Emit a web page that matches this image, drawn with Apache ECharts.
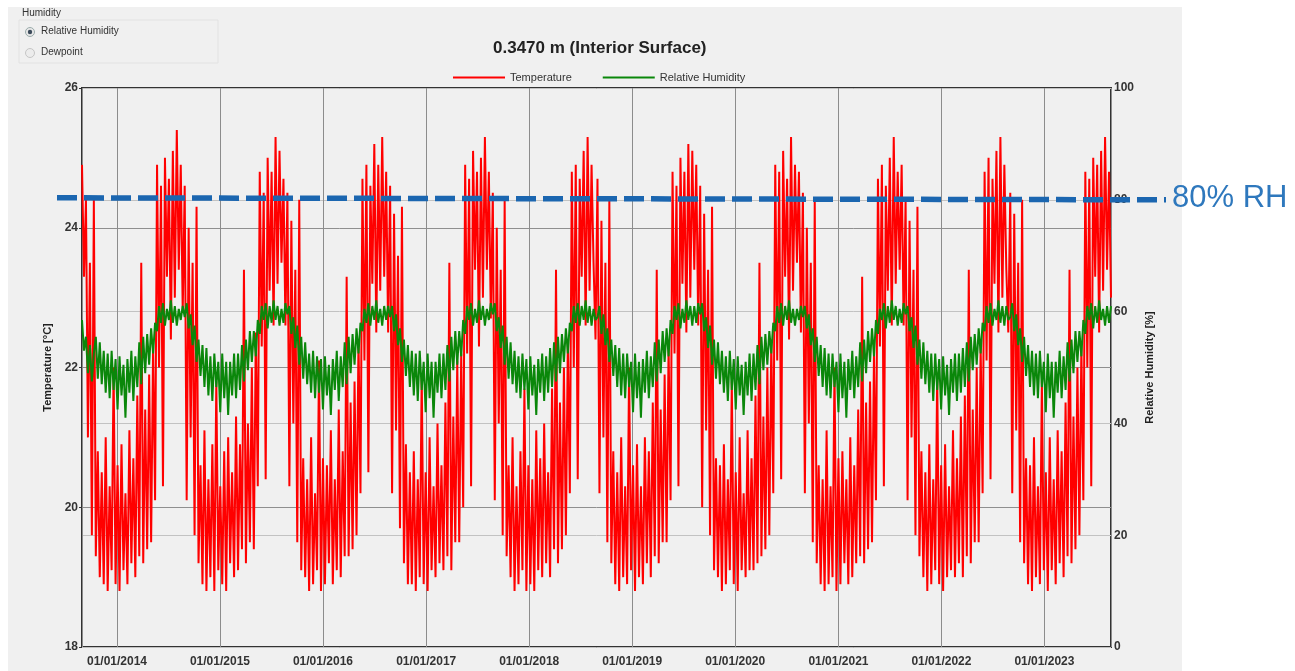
<!DOCTYPE html>
<html>
<head>
<meta charset="utf-8">
<title>0.3470 m (Interior Surface)</title>
<script src="https://cdn.jsdelivr.net/npm/echarts@6/dist/echarts.min.js"></script>
<style>
  html, body { margin: 0; padding: 0; background: #fff; }
  #wrap { position: relative; width: 1295px; height: 671px; }
  #panel { position: absolute; left: 8px; top: 7px; width: 1174px; height: 664px; background: #f0f0f0; }
  #chart { position: absolute; left: 0; top: 0; width: 1295px; height: 671px; }
</style>
</head>
<body>
<div id="wrap">
  <div id="panel"></div>
  <div id="chart"></div>
</div>
<script>
const chartTitle = '0.3470 m (Interior Surface)';
const seriesNames = ['Temperature', 'Relative Humidity'];
const firstSample = '2013-08-30';
const lastSample = '2023-08-25';
const tempAxis = { min: 18, max: 26, interval: 2 };
const rhAxis = { min: 0, max: 100, interval: 20 };
const rhThreshold = 80;

// weekly samples, one line per year (end of August -> end of August)
const temperature = [
  24.9,23.3,24.4,21.0,23.5,19.6,24.4,19.3,20.8,19.0,20.5,18.9,21.0,18.8,20.3,19.1,22.0,18.9,20.6,18.8,20.9,19.1,20.2,18.9,21.1,19.2,20.7,19.0,21.6,19.3,23.5,19.2,21.4,19.4,21.9,19.5,22.3,20.1,24.9,22.0,24.6,20.3,25.0,23.3,24.7,22.4,25.1,23.0,25.4,23.4,24.9,22.8,
  24.6,20.1,24.0,21.0,23.5,19.6,24.3,19.2,20.6,18.9,21.1,18.8,20.4,19.0,20.9,18.8,21.8,19.1,20.3,18.9,20.8,18.8,21.0,19.2,20.5,19.0,21.3,19.1,20.9,19.4,23.4,19.2,21.2,19.5,22.0,19.4,22.5,20.3,24.8,22.3,24.5,20.4,25.0,23.1,24.8,22.6,25.3,23.2,25.1,23.5,24.7,22.6,
  24.5,20.3,24.1,21.2,23.4,19.5,24.4,19.1,20.7,19.0,20.4,18.8,21.0,18.9,20.2,19.1,22.1,18.8,20.7,18.9,20.6,19.2,21.1,18.9,20.4,19.1,21.4,19.0,20.8,19.3,23.3,19.3,21.5,19.4,21.8,19.6,22.4,20.2,24.7,22.1,24.9,20.5,24.6,23.2,25.2,22.5,24.9,23.1,25.3,23.3,24.8,22.5,
  24.6,20.2,24.2,21.1,23.6,19.7,24.3,19.2,20.9,18.9,20.5,18.9,20.8,18.8,20.4,19.0,21.9,18.9,20.5,18.8,21.0,19.1,20.3,19.0,21.2,19.2,20.6,19.1,21.5,19.3,23.5,19.1,21.3,19.5,22.1,19.5,22.2,20.0,24.9,22.2,24.7,20.3,25.1,23.4,24.8,22.3,25.0,23.0,25.3,23.4,24.8,22.7,
  24.5,20.1,24.0,21.2,23.4,19.6,24.4,19.3,20.6,19.0,21.0,18.8,20.3,18.9,20.8,19.1,21.7,18.8,20.6,18.9,20.4,18.8,21.1,19.1,20.7,19.0,21.2,19.2,20.5,19.0,21.7,19.4,23.4,19.2,21.5,19.4,22.0,19.6,22.4,20.2,24.8,22.0,24.9,20.4,24.7,23.3,25.1,22.6,25.3,23.1,24.9,23.5,22.4,
  24.7,20.2,24.1,21.0,23.5,19.5,24.4,19.2,20.8,18.9,20.5,18.8,21.0,19.0,20.3,18.9,22.0,19.1,20.6,18.8,20.9,19.0,20.3,18.9,21.0,19.2,20.8,19.0,21.5,19.3,23.4,19.2,21.4,19.5,21.9,19.5,22.3,20.1,24.8,22.2,24.6,20.3,25.0,23.2,24.8,22.5,25.2,23.0,25.1,23.4,24.9,22.6,
  24.6,20.0,24.2,21.1,23.4,19.6,24.3,19.1,20.7,19.0,20.6,18.8,20.9,18.9,20.4,19.1,21.8,18.9,20.5,18.8,21.0,19.1,20.2,19.0,21.1,19.1,20.7,19.1,21.6,19.2,23.5,19.3,21.3,19.4,22.0,19.6,22.4,20.2,24.9,22.1,24.8,20.4,25.1,23.3,24.7,22.4,25.3,23.1,24.9,23.5,24.8,22.5,
  24.5,20.2,24.0,21.2,23.5,19.5,24.4,19.2,20.6,18.9,20.4,18.8,21.1,18.9,20.3,19.0,22.0,18.8,20.7,18.9,20.8,19.2,20.4,18.9,21.0,19.0,20.6,19.2,21.4,19.3,23.3,19.2,21.5,19.4,21.8,19.5,22.2,20.1,24.7,22.3,24.9,20.3,24.6,23.1,25.0,22.6,25.3,23.2,24.8,23.4,24.9,22.6,
  24.4,20.1,24.1,21.0,23.4,19.6,24.3,19.3,20.8,19.0,20.5,18.8,20.9,18.9,20.4,19.1,21.9,18.9,20.6,18.8,20.9,19.0,20.3,19.1,21.1,19.0,20.7,19.2,21.3,19.0,21.6,19.3,23.4,19.2,21.4,19.5,22.0,19.5,22.3,20.2,24.8,22.1,25.0,20.4,24.7,23.2,25.1,22.5,25.3,23.0,24.9,23.4,22.5,
  24.5,20.2,24.2,21.1,23.5,19.5,24.4,19.2,20.7,18.9,20.6,18.8,21.0,19.0,20.3,18.9,21.8,19.1,20.5,18.8,21.0,19.1,20.4,18.9,21.1,19.2,20.8,19.0,21.5,19.3,23.4,19.2,21.3,19.4,22.0,19.6,22.3,20.1,24.8,22.0,24.7,20.3,25.0,23.3,24.9,22.5,25.1,23.1,25.3,23.4,24.8,23.0
];

const humidity = [
  58.5,53.0,55.5,49.0,54.0,47.5,52.5,55.5,48.0,54.5,47.0,53.0,45.5,52.5,44.5,53.0,46.0,51.5,42.5,52.0,45.0,50.5,41.0,51.5,45.5,53.0,44.0,52.0,46.5,54.5,47.0,55.5,49.0,56.0,50.5,57.0,52.5,58.0,56.5,61.0,58.0,61.5,57.5,60.5,58.5,62.0,58.0,61.0,57.5,60.5,58.5,61.0,
  59.0,61.5,57.0,59.5,54.0,57.5,51.0,55.0,48.5,54.0,46.5,53.5,45.0,52.0,44.0,52.5,46.5,51.0,42.0,52.5,44.5,51.0,41.5,51.0,45.0,52.5,44.5,52.5,46.0,54.0,47.5,55.0,49.5,56.5,51.0,56.5,52.0,58.5,56.0,61.0,58.5,61.5,57.0,61.0,58.0,62.0,58.5,61.0,57.5,60.5,58.0,61.5,
  59.5,61.0,56.0,59.0,53.5,57.5,50.5,55.5,48.0,54.5,47.0,52.5,45.5,53.0,44.5,52.0,45.5,51.5,42.5,52.0,45.0,50.5,41.5,51.5,46.0,53.0,44.0,52.0,46.5,54.5,47.0,55.5,49.0,56.0,50.5,57.0,52.5,58.0,56.5,60.5,58.0,61.5,57.5,61.0,58.5,62.0,58.0,60.5,57.5,61.0,58.5,61.0,
  59.0,61.0,56.5,59.5,54.0,57.0,51.0,55.0,48.5,54.0,46.5,53.0,45.0,52.5,44.0,53.0,46.0,51.0,42.0,52.5,44.5,51.0,41.0,51.0,45.5,52.5,44.5,52.5,46.0,54.0,47.5,55.5,49.5,56.5,50.5,56.5,52.0,58.5,56.0,61.0,58.5,61.5,57.5,60.5,58.0,62.0,58.5,61.0,57.5,60.5,58.5,61.5,
  59.5,61.5,56.5,59.0,53.5,57.5,50.5,55.5,48.0,54.5,47.0,53.0,45.5,52.0,44.5,52.5,46.0,51.5,42.5,52.0,45.0,50.5,41.5,51.5,45.5,52.5,44.0,52.0,45.5,53.5,46.5,54.5,47.5,55.5,49.0,56.0,51.0,57.0,52.5,58.0,56.5,61.0,58.0,61.5,57.5,61.0,58.5,62.0,58.0,61.0,57.5,60.5,58.5,
  59.0,61.0,56.0,59.5,54.0,57.0,51.0,55.0,48.5,54.0,46.5,53.5,45.0,52.5,44.5,52.5,46.5,51.0,42.0,52.5,44.5,51.0,41.0,51.5,45.5,53.0,44.5,52.0,46.5,54.5,47.5,55.0,49.0,56.5,51.0,57.0,52.0,58.5,56.0,61.0,58.5,61.5,57.0,60.5,58.0,62.0,58.5,61.0,57.5,61.0,58.0,61.5,
  59.5,61.5,56.5,59.0,53.5,57.5,50.5,55.0,48.0,54.5,47.0,53.0,45.5,52.0,44.0,53.0,46.0,51.5,42.5,52.0,45.0,50.5,41.5,51.0,45.0,52.5,44.0,52.5,46.0,54.0,47.0,55.5,49.5,56.0,50.5,56.5,52.5,58.0,56.5,61.0,58.0,61.5,57.5,61.0,58.5,62.0,58.0,60.5,57.5,60.5,58.5,61.0,
  59.0,61.0,57.0,59.5,54.0,57.0,51.0,55.5,48.5,54.0,46.5,53.5,45.0,52.5,44.5,52.5,46.5,51.0,42.0,52.5,44.5,51.0,41.0,51.5,46.0,53.0,44.5,52.0,46.5,54.5,47.5,55.0,49.0,56.5,51.0,57.0,52.0,58.5,56.0,60.5,58.5,61.5,57.0,61.0,58.0,62.0,58.5,61.0,57.5,60.5,58.0,61.5,
  59.5,61.0,56.5,59.0,53.5,57.5,50.5,55.0,48.0,54.5,47.0,53.0,45.5,52.5,44.0,52.5,46.0,51.5,42.5,52.0,45.0,50.5,41.5,51.5,45.5,52.5,44.0,52.5,45.5,53.5,46.5,54.5,47.5,55.5,49.5,56.0,50.5,57.0,52.5,58.0,56.5,61.0,58.0,61.5,57.5,60.5,58.5,62.0,58.0,61.0,57.5,61.0,58.5,
  59.0,61.5,56.5,59.5,54.0,57.0,51.0,55.5,48.5,54.0,46.5,53.0,45.0,52.5,44.5,53.0,46.5,51.0,42.0,52.5,44.5,51.0,41.0,51.0,45.5,53.0,44.5,52.0,46.0,54.5,47.5,55.0,49.0,56.5,51.0,56.5,52.0,58.5,56.0,61.0,58.5,61.5,57.0,61.0,58.0,62.0,58.5,60.5,57.5,61.0,58.0,61.0
];

const DAY = 24 * 3600 * 1000;
const t0 = +new Date(firstSample);
const t1 = +new Date(lastSample);

// samples are evenly spaced between the first and last date
const toSeries = (values) => {
  const step = (t1 - t0) / (values.length - 1);
  return values.map((v, i) => [t0 + i * step, v]);
};

const font = '"Liberation Sans", Arial, sans-serif';
const myChart = echarts.init(document.getElementById('chart'));

const option = {
  animation: false,
  textStyle: { fontFamily: font },
  title: {
    text: chartTitle,
    left: 488,
    top: 35,
    textStyle: { fontSize: 17, fontWeight: 'bold', color: '#222', fontFamily: font }
  },
  legend: {
    left: 448,
    top: 67,
    icon: 'rect',
    itemWidth: 52,
    itemHeight: 2,
    itemGap: 31,
    textStyle: { fontSize: 11, color: '#333', fontFamily: font },
    data: seriesNames
  },
  grid: {
    left: 82,
    right: 184,
    top: 88,
    bottom: 24,
    show: true,
    borderColor: '#333',
    borderWidth: 2
  },
  xAxis: {
    type: 'time',
    min: t0,
    max: t1,
    minInterval: 365 * DAY,
    maxInterval: 366 * DAY,
    axisLine: { show: false },
    axisTick: { show: false },
    axisLabel: {
      formatter: '{dd}/{MM}/{yyyy}',
      showMinLabel: false,
      showMaxLabel: false,
      fontSize: 12,
      fontWeight: 'bold',
      color: '#333',
      margin: 9
    },
    splitLine: { show: true, lineStyle: { color: '#8c8c8c', width: 1 } }
  },
  yAxis: [
    {
      type: 'value',
      position: 'left',
      min: tempAxis.min,
      max: tempAxis.max,
      interval: tempAxis.interval,
      name: 'Temperature [°C]',
      nameLocation: 'middle',
      nameRotate: 90,
      nameGap: 23,
      nameTextStyle: { fontSize: 11, fontWeight: 'bold', color: '#222' },
      axisLine: { show: false },
      axisTick: { show: true, length: 3, lineStyle: { color: '#333' } },
      axisLabel: { fontSize: 12, fontWeight: 'bold', color: '#333', margin: 4 },
      splitLine: { lineStyle: { color: '#8f8f8f' } }
    },
    {
      type: 'value',
      position: 'right',
      min: rhAxis.min,
      max: rhAxis.max,
      interval: rhAxis.interval,
      name: 'Relative Humidity [%]',
      nameLocation: 'middle',
      nameRotate: 90,
      nameGap: 33,
      nameTextStyle: { fontSize: 11, fontWeight: 'bold', color: '#222' },
      axisLine: { show: false },
      axisTick: { show: false },
      axisLabel: { fontSize: 12, fontWeight: 'bold', color: '#333', margin: 3 },
      splitLine: { lineStyle: { color: '#c2c2c2' } }
    }
  ],
  series: [
    {
      name: seriesNames[0],
      type: 'line',
      yAxisIndex: 0,
      showSymbol: false,
      color: '#ff0000',
      lineStyle: { width: 2 },
      data: toSeries(temperature)
    },
    {
      name: seriesNames[1],
      type: 'line',
      yAxisIndex: 1,
      showSymbol: false,
      color: '#0a870a',
      lineStyle: { width: 2 },
      data: toSeries(humidity)
    }
  ]
};

myChart.setOption(option);

// panel widgets + 80% RH annotation
const y80 = myChart.convertToPixel({ yAxisIndex: 1 }, rhThreshold);
myChart.setOption({
  graphic: [
    { type: 'rect', shape: { x: 19, y: 20, width: 199, height: 43 }, style: { fill: 'none', stroke: '#e2e2e2', lineWidth: 1 } },
    { type: 'text', x: 22, y: 8, style: { text: 'Humidity', fontSize: 10, fill: '#333', fontFamily: font } },
    { type: 'circle', shape: { cx: 30, cy: 32, r: 4.5 }, style: { fill: '#e8e8e8', stroke: '#9aa', lineWidth: 1 } },
    { type: 'circle', shape: { cx: 30, cy: 32, r: 2.2 }, style: { fill: '#3b4a5a' } },
    { type: 'text', x: 41, y: 26, style: { text: 'Relative Humidity', fontSize: 10, fill: '#333', fontFamily: font } },
    { type: 'circle', shape: { cx: 30, cy: 53, r: 4.5 }, style: { fill: '#ececec', stroke: '#c4c4c4', lineWidth: 1 } },
    { type: 'text', x: 41, y: 47, style: { text: 'Dewpoint', fontSize: 10, fill: '#333', fontFamily: font } },
    {
      type: 'line',
      z: 100,
      shape: { x1: 57, y1: y80 - 2, x2: 1166, y2: y80 },
      style: { stroke: '#1b66b0', lineWidth: 5.5, lineDash: [20, 7] }
    },
    {
      type: 'text',
      z: 100,
      x: 1172,
      y: y80 - 1,
      style: { text: '80% RH', fontSize: 31, fill: '#2e78bd', fontFamily: font, verticalAlign: 'middle' }
    }
  ]
});

window.addEventListener('resize', () => {
  myChart.resize();
});
</script>
</body>
</html>
